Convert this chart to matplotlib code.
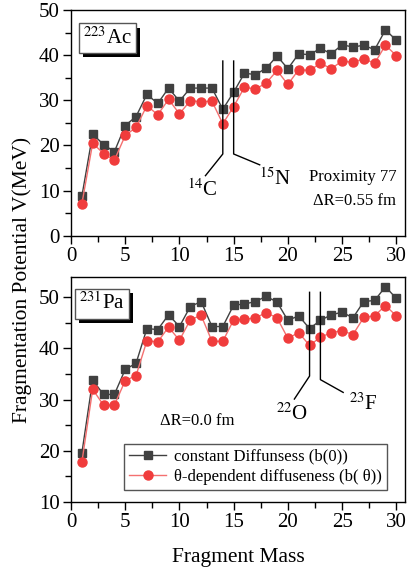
import numpy as np
import matplotlib
matplotlib.use("Agg")
import matplotlib.pyplot as plt
from matplotlib import patheffects
from matplotlib.ticker import MultipleLocator

plt.rcParams['font.family'] = ['Liberation Serif', 'DejaVu Serif']
plt.rcParams['mathtext.fontset'] = 'stix'

# Data
mass = np.arange(1, 31)

ac_const = [8.7, 22.5, 20.2, 18.6, 24.4, 26.4, 31.3, 29.3, 32.7, 29.8,
            32.7, 32.7, 32.7, 28.0, 31.8, 36.0, 35.7, 37.1, 39.8, 37.0,
            40.3, 40.1, 41.5, 40.3, 42.3, 41.8, 42.2, 41.2, 45.6, 43.3]
ac_theta = [7.0, 20.5, 18.2, 16.7, 22.2, 24.0, 28.8, 26.8, 30.2, 27.0,
            29.9, 29.7, 29.8, 24.8, 28.6, 32.9, 32.5, 33.8, 36.6, 33.5,
            36.8, 36.6, 38.2, 37.0, 38.7, 38.4, 39.2, 38.2, 42.2, 39.9]

pa_const = [19.5, 33.8, 31.0, 31.0, 35.9, 37.1, 43.9, 43.7, 46.6, 44.3,
            48.2, 49.2, 44.3, 44.3, 48.5, 48.7, 49.2, 50.2, 49.1, 45.5,
            46.4, 43.9, 45.5, 46.6, 47.1, 46.0, 49.2, 49.4, 52.1, 49.8]
pa_theta = [17.7, 32.0, 28.9, 28.9, 33.7, 34.7, 41.5, 41.3, 44.2, 41.6,
            45.6, 46.5, 41.4, 41.4, 45.6, 45.7, 46.0, 47.0, 46.0, 42.0,
            43.1, 40.6, 42.2, 43.1, 43.5, 42.7, 46.1, 46.4, 48.4, 46.4]

SQ_COLOR = '#404040'
RED = '#f03c3c'
RED_LINE = '#f47070'

fig = plt.figure(figsize=(4.08, 5.69), dpi=100)
ax_top = fig.add_axes([0.174, 0.5858, 0.8186, 0.3966])
ax_bot = fig.add_axes([0.174, 0.1183, 0.8186, 0.3949])


def style_axis(ax, ylim, ymaj, ymin):
    ax.set_xlim(0, 30.8)
    ax.set_ylim(*ylim)
    ax.xaxis.set_major_locator(MultipleLocator(5))
    ax.xaxis.set_minor_locator(MultipleLocator(2.5))
    ax.yaxis.set_major_locator(MultipleLocator(ymaj))
    ax.yaxis.set_minor_locator(MultipleLocator(ymin))
    ax.tick_params(which='major', direction='out', length=6, width=1,
                   labelsize=15, pad=2)
    ax.tick_params(which='minor', direction='out', length=4, width=1)
    for s in ax.spines.values():
        s.set_linewidth(1)


def label_box(ax, x, y, txt):
    t = ax.text(x, y, txt, transform=ax.transAxes, fontsize=15,
                va='top', ha='left',
                bbox=dict(boxstyle='square,pad=0.2', fc='white', ec='#555555', lw=1))
    t.get_bbox_patch().set_path_effects([
        patheffects.SimplePatchShadow(offset=(3, -3.5), shadow_rgbFace='k', alpha=1),
        patheffects.Normal()])


# Top panel (223Ac)
ax_top.plot(mass, ac_const, '-s', color=SQ_COLOR, lw=1, ms=5.5)
ax_top.plot(mass, ac_theta, '-o', color=RED_LINE, mfc=RED, mec=RED, lw=1, ms=6.5)
style_axis(ax_top, (0, 50), 10, 5)
label_box(ax_top, 0.035, 0.925, r'$^{223}$Ac')

ax_top.plot([14, 14, 12.4], [38.7, 18.1, 13.3], color='k', lw=1)
ax_top.plot([15, 15, 17.4], [38.7, 18.1, 15.7], color='k', lw=1)
ax_top.text(12.1, 10.0, r'$^{14}$C', fontsize=15, ha='center', va='center')
ax_top.text(18.8, 12.6, r'$^{15}$N', fontsize=15, ha='center', va='center')
ax_top.text(30.0, 13.1, 'Proximity 77', fontsize=12, ha='right', va='center')
ax_top.text(30.0, 7.6, r'ΔR=0.55 fm', fontsize=12, ha='right', va='center')

# Bottom panel (231Pa)
ax_bot.plot(mass, pa_const, '-s', color=SQ_COLOR, lw=1, ms=5.5,
            label='constant Diffunsess (b(0))')
ax_bot.plot(mass, pa_theta, '-o', color=RED_LINE, mfc=RED, mec=RED, lw=1, ms=6.5,
            label='θ-dependent diffuseness (b( θ))')
style_axis(ax_bot, (10, 54), 10, 5)
label_box(ax_bot, 0.025, 0.93, r'$^{231}$Pa')

ax_bot.plot([22, 22, 20.6], [51.0, 34.6, 30.1], color='k', lw=1)
ax_bot.plot([23, 23, 25.1], [51.0, 33.9, 31.4], color='k', lw=1)
ax_bot.text(20.4, 27.1, r'$^{22}$O', fontsize=15, ha='center', va='center')
ax_bot.text(27.0, 29.1, r'$^{23}$F', fontsize=15, ha='center', va='center')
ax_bot.text(11.6, 25.8, 'ΔR=0.0 fm', fontsize=12, ha='center', va='center')

leg = ax_bot.legend(loc='lower left', bbox_to_anchor=(0.16, 0.052),
                    borderaxespad=0, fancybox=False, edgecolor='#555555',
                    framealpha=1, fontsize=12, handlelength=2.2,
                    handletextpad=0.5, borderpad=0.3, labelspacing=0.25)
leg.get_frame().set_linewidth(1)

ax_bot.set_xlabel('Fragment Mass', fontsize=15.5, labelpad=12)
fig.text(0.054, 0.508, 'Fragmentation Potential V(MeV)', rotation=90,
         fontsize=15.5, ha='center', va='center')

fig.savefig('out.png', dpi=100)
